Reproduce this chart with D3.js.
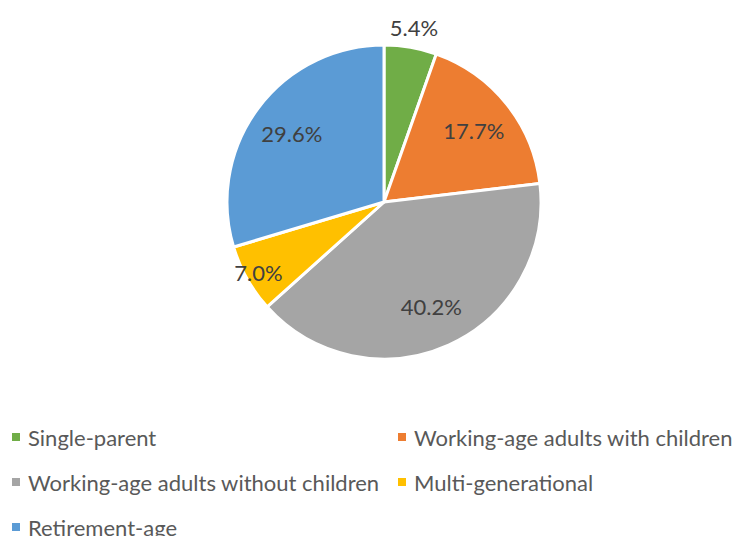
<!DOCTYPE html>
<html>
<head>
<meta charset="utf-8">
<script src="https://cdn.jsdelivr.net/npm/d3@7"></script>
<style>
  html, body { margin: 0; padding: 0; background: #fff; }
  svg { display: block; font-family: Lato, "Open Sans", sans-serif; }
</style>
</head>
<body>
<svg id="chart" width="737" height="536"></svg>
<script>
// Household types and their share of the total (%)
const categories = [
  "Single-parent",
  "Working-age adults with children",
  "Working-age adults without children",
  "Multi-generational",
  "Retirement-age"
];
const shares = [5.4, 17.7, 40.2, 7.0, 29.6];
const colors = ["#70AD47", "#ED7D31", "#A5A5A5", "#FFC000", "#5B9BD5"];

const data = categories.map((c, i) => ({ name: c, value: shares[i], color: colors[i] }));

const svg = d3.select("#chart");
const cx = 384, cy = 202, radius = 157;

const pie = d3.pie().sort(null).value(d => d.value);
const arcs = pie(data);
const arc = d3.arc().innerRadius(0).outerRadius(radius);

const g = svg.append("g").attr("transform", `translate(${cx},${cy})`);

g.selectAll("path.slice")
  .data(arcs)
  .join("path")
  .attr("class", "slice")
  .attr("d", arc)
  .attr("fill", d => d.data.color)
  .attr("stroke", "#fff")
  .attr("stroke-width", 3)
  .attr("stroke-linejoin", "round");

// Label radius: narrow slices push their label outward
function labelRadius(d) {
  if (d.data.value < 6) return 177;
  if (d.data.value < 10) return 144;
  return 115;
}

g.selectAll("text.label")
  .data(arcs)
  .join("text")
  .attr("class", "label")
  .attr("x", d => Math.sin((d.startAngle + d.endAngle) / 2) * labelRadius(d))
  .attr("y", d => -Math.cos((d.startAngle + d.endAngle) / 2) * labelRadius(d))
  .attr("text-anchor", "middle")
  .attr("dominant-baseline", "central")
  .attr("font-size", 22)
  .attr("fill", "#404040")
  .text(d => d3.format(".1f")(d.data.value) + "%");

// Legend: two columns, wrapping row by row
const legendCols = [12, 398];
const legendRows = [437, 482, 527];
const legend = svg.append("g");
const items = legend.selectAll("g.item")
  .data(data)
  .join("g")
  .attr("class", "item")
  .attr("transform", (d, i) => `translate(${legendCols[i % 2]},${legendRows[Math.floor(i / 2)]})`);

items.append("rect")
  .attr("x", 0).attr("y", -4)
  .attr("width", 8).attr("height", 8)
  .attr("fill", d => d.color);

items.append("text")
  .attr("x", 16)
  .attr("y", 0)
  .attr("dominant-baseline", "central")
  .attr("font-size", 22)
  .attr("fill", "#595959")
  .text(d => d.name);
</script>
</body>
</html>
